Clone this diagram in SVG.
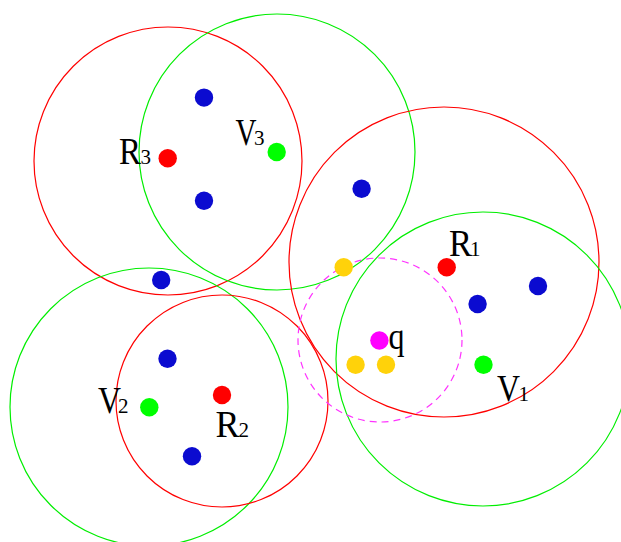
<svg xmlns="http://www.w3.org/2000/svg" width="621" height="542" viewBox="0 0 621 542">
<style>
.rc{fill:none;stroke:#ff0000;stroke-width:1.2}
.gc{fill:none;stroke:#00ee00;stroke-width:1.2}
.qc{fill:none;stroke:#ff33ff;stroke-width:1.2;stroke-dasharray:7 5}
.b{fill:#0b0bd0}
.r{fill:#ff0000}
.g{fill:#00ff00}
.y{fill:#ffd20a}
.m{fill:#ff00ff}
.t{font-family:"Liberation Serif","Times New Roman",serif;font-size:38px;fill:#000}
.s{font-family:"Liberation Serif","Times New Roman",serif;font-size:21px;fill:#000}
</style>
<rect width="621" height="542" fill="#ffffff"/>
<g id="ranges">
<circle class="rc" cx="168" cy="161" r="134"/>
<circle class="gc" cx="277" cy="152" r="138"/>
<circle class="rc" cx="444" cy="262" r="155"/>
<circle class="gc" cx="483" cy="359" r="147"/>
<circle class="gc" cx="149" cy="407" r="139"/>
<circle class="rc" cx="222" cy="401" r="106"/>
<circle class="qc" cx="380" cy="340" r="82"/>
</g>
<g id="points">
<circle class="b" cx="204" cy="97.6" r="9.2"/>
<circle class="b" cx="204" cy="200.8" r="9.2"/>
<circle class="b" cx="361.6" cy="188.7" r="9.2"/>
<circle class="b" cx="161.2" cy="280" r="9.2"/>
<circle class="b" cx="538" cy="286" r="9.2"/>
<circle class="b" cx="477.6" cy="304" r="9.2"/>
<circle class="b" cx="167.5" cy="358.8" r="9.2"/>
<circle class="b" cx="192" cy="456.3" r="9.2"/>
<circle class="y" cx="343.7" cy="267.2" r="9.2"/>
<circle class="y" cx="355.6" cy="364.7" r="9.2"/>
<circle class="y" cx="386" cy="364.7" r="9.2"/>
</g>
<g id="R3"><circle class="r" cx="167.7" cy="158.2" r="9.2"/><text class="t" x="119" y="163.5" textLength="22" lengthAdjust="spacingAndGlyphs">R</text><text class="s" x="140.5" y="163.5">3</text></g>
<g id="V3"><circle class="g" cx="276.7" cy="152" r="9.2"/><text class="t" x="235.5" y="145" textLength="21" lengthAdjust="spacingAndGlyphs">V</text><text class="s" x="254" y="145">3</text></g>
<g id="R1"><circle class="r" cx="446.7" cy="267.2" r="9.2"/><text class="t" x="449" y="256" textLength="23" lengthAdjust="spacingAndGlyphs">R</text><text class="s" x="470" y="256">1</text></g>
<g id="V1"><circle class="g" cx="483.5" cy="364.7" r="9.2"/><text class="t" x="497" y="400.5" textLength="23" lengthAdjust="spacingAndGlyphs">V</text><text class="s" x="518.5" y="400.5">1</text></g>
<g id="V2"><circle class="g" cx="149.3" cy="407.2" r="9.2"/><text class="t" x="98" y="413.3" textLength="23" lengthAdjust="spacingAndGlyphs">V</text><text class="s" x="118" y="413.3">2</text></g>
<g id="R2"><circle class="r" cx="222" cy="395" r="9.2"/><text class="t" x="215.5" y="436.5" textLength="24" lengthAdjust="spacingAndGlyphs">R</text><text class="s" x="238.5" y="436.5">2</text></g>
<g id="q"><circle class="m" cx="379.4" cy="340.5" r="9.2"/><text class="t" x="388.5" y="348.5" textLength="16" lengthAdjust="spacingAndGlyphs">q</text></g>
<g id="connectors"/>
</svg>
